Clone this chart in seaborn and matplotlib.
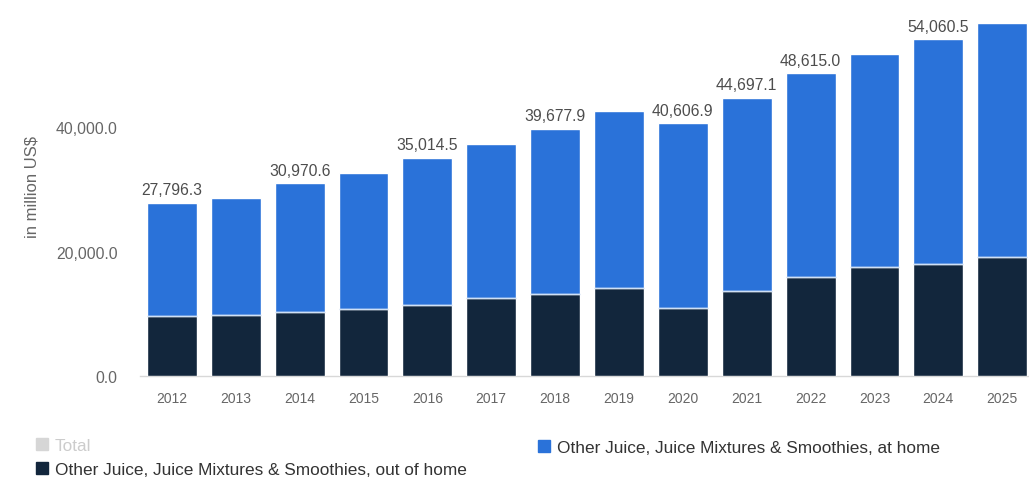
import matplotlib
matplotlib.use("Agg")
import matplotlib.pyplot as plt
from matplotlib.lines import Line2D
import numpy as np
import pandas as pd
import seaborn as sns

# Revenue, other juice / juice mixtures / smoothies (million US$)
years = ["2012", "2013", "2014", "2015", "2016", "2017", "2018",
         "2019", "2020", "2021", "2022", "2023", "2024", "2025"]
total = [27796.3, 28600.0, 30970.6, 32600.0, 35014.5, 37300.0, 39677.9,
         42600.0, 40606.9, 44697.1, 48615.0, 51700.0, 54060.5, 56700.0]
out_of_home = [9600.0, 9750.0, 10330.0, 10760.0, 11400.0, 12500.0, 13170.0,
               14080.0, 10870.0, 13700.0, 15850.0, 17450.0, 18050.0, 19060.0]
labeled_years = ["2012", "2014", "2016", "2018", "2020", "2021", "2022", "2024"]

series_home = "Other Juice, Juice Mixtures & Smoothies, at home"
series_out = "Other Juice, Juice Mixtures & Smoothies, out of home"

BLUE = "#2a72d9"
NAVY = "#12263c"
TXT = "#666666"

sns.set_theme(style="white")
plt.rcParams["font.family"] = ["Liberation Sans", "DejaVu Sans"]

df = pd.DataFrame({"year": years, "total": total, "out": out_of_home})

fig = plt.figure(figsize=(10.29, 4.81), dpi=100)
ax = fig.add_axes([0.136, 0.2162, 0.869, 0.7765])

# at-home part sits on top of out-of-home: draw full total, then overlay
sns.barplot(data=df, x="year", y="total", color=BLUE, width=0.78,
            saturation=1, ax=ax, zorder=2)
sns.barplot(data=df, x="year", y="out", color=NAVY, width=0.78,
            saturation=1, ax=ax, zorder=3)

# thin light separator between the two segments
xs = np.arange(len(years))
ax.hlines(out_of_home, xs - 0.39, xs + 0.39, colors="#cfe0f5",
          linewidth=1.0, zorder=4)

for i, (y, t) in enumerate(zip(years, total)):
    if y in labeled_years:
        ax.text(i, t + 900, f"{t:,.1f}", ha="center", va="bottom",
                fontsize=11.3, color="#4d4d4d", zorder=5)

ax.set_xlim(-0.5, len(years) - 0.5)
ax.set_ylim(0, 60000)
ax.set_yticks([0, 20000, 40000])
ax.set_yticklabels([f"{v:,.1f}" for v in [0, 20000, 40000]])
ax.tick_params(axis="y", labelsize=11.3, colors=TXT, length=0, pad=16)
ax.tick_params(axis="x", labelsize=10, colors=TXT, length=0, pad=11)
ax.set_xlabel("")
ax.set_ylabel("in million US$", fontsize=12, color=TXT)
ax.yaxis.set_label_coords(-0.112, 0.51)

for s in ["top", "right", "left"]:
    ax.spines[s].set_visible(False)
ax.spines["bottom"].set_color("#d8d8d8")
ax.spines["bottom"].set_linewidth(1.0)


def swatch(c):
    return Line2D([], [], marker="s", linestyle="", markersize=8.5,
                  markerfacecolor=c, markeredgecolor=c)


leg_kw = dict(loc="center left", frameon=False, fontsize=12.4,
              handletextpad=0.35, handlelength=0.8, labelspacing=0.55,
              borderaxespad=0, borderpad=0)
leg1 = fig.legend([swatch("#d6d6d6"), swatch(NAVY)], ["Total", series_out],
                  bbox_to_anchor=(0.034, 0.047), **leg_kw)
for txt in leg1.get_texts():
    txt.set_color("#333333")
leg1.get_texts()[0].set_color("#cccccc")

leg2 = fig.legend([swatch(BLUE)], [series_home],
                  bbox_to_anchor=(0.522, 0.068), **leg_kw)
leg2.get_texts()[0].set_color("#333333")

fig.savefig("out.png", dpi=100)
